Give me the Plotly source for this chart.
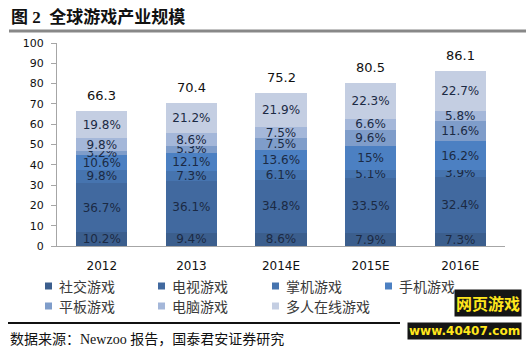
import plotly.graph_objects as go

# ---------------- data ----------------
years = ["2012", "2013", "2014E", "2015E", "2016E"]
totals = [66.3, 70.4, 75.2, 80.5, 86.1]

series_names = ["社交游戏", "电视游戏", "掌机游戏", "手机游戏", "平板游戏", "电脑游戏", "多人在线游戏"]
social_pct = [10.2, 9.4, 8.6, 7.9, 7.3]
tv_pct = [36.7, 36.1, 34.8, 33.5, 32.4]
handheld_pct = [9.8, 7.3, 6.1, 5.1, 3.9]
mobile_pct = [10.6, 12.1, 13.6, 15, 16.2]
tablet_pct = [3.2, 5.3, 7.5, 9.6, 11.6]
pc_pct = [9.8, 8.6, 7.5, 6.6, 5.8]
mmo_pct = [19.8, 21.2, 21.9, 22.3, 22.7]

y_ticks = [0, 10, 20, 30, 40, 50, 60, 70, 80, 90, 100]

series_pcts = [social_pct, tv_pct, handheld_pct, mobile_pct, tablet_pct, pc_pct, mmo_pct]
colors = ["#3b5e8d", "#41699f", "#4674af", "#4c80c2", "#7f9dca", "#a4b7d9", "#c4cee2"]

# ---------------- layout geometry (pixels) ----------------
W, H = 526, 348
L, R, T, B = 57, 21, 43, 102
PW, PH = W - L - R, H - T - B


def px(x):
    return (x - L) / PW


def py(y):
    return (H - B - y) / PH


NUM_FONT = "DejaVu Sans, Verdana, sans-serif"
CJK_FONT = "Noto Sans CJK SC, sans-serif"
SERIF_CJK = "Liberation Serif, Noto Sans CJK SC, serif"

fig = go.Figure()
for name, pcts, col in zip(series_names, series_pcts, colors):
    vals = [t * p / 100 for t, p in zip(totals, pcts)]
    fig.add_trace(go.Bar(
        x=years, y=vals, name=name,
        marker=dict(color=col, line=dict(width=0)),
        text=[f"{p:g}%" for p in pcts],
        textposition="inside",
        insidetextanchor="middle",
        textangle=0,
        constraintext="none",
        insidetextfont=dict(family=NUM_FONT, size=12, color="#1b2a44"),
        showlegend=False,
        hoverinfo="skip",
    ))

annotations = []
# totals above bars (x given as category index)
for i, tot in enumerate(totals):
    annotations.append(dict(
        x=i, y=tot, xref="x", yref="y", text=f"{tot:g}", showarrow=False,
        yanchor="bottom", yshift=6, font=dict(family=NUM_FONT, size=13, color="#111111"),
    ))

# title
annotations.append(dict(
    x=px(9), y=py(17), xref="paper", yref="paper", xanchor="left", yanchor="middle",
    text="<b>图 2  全球游戏产业规模</b>", showarrow=False,
    font=dict(family=SERIF_CJK, size=17, color="#111111"),
))

# legend (manual)
leg_cols = [45, 158, 272, 385]
leg_rows = [286, 306]
shapes = []
for i, (name, col) in enumerate(zip(series_names, colors)):
    cx = leg_cols[i % 4]
    ry = leg_rows[i // 4]
    shapes.append(dict(type="rect", xref="paper", yref="paper",
                       x0=px(cx), x1=px(cx + 7), y0=py(ry + 3.5), y1=py(ry - 3.5),
                       fillcolor=col, line=dict(width=0)))
    annotations.append(dict(
        x=px(cx + 12), y=py(ry), xref="paper", yref="paper", xanchor="left", yanchor="middle",
        text=name, showarrow=False, font=dict(family=CJK_FONT, size=14, color="#3a3a3a"),
    ))

# top gray rule and bottom black rule
shapes.append(dict(type="line", xref="paper", yref="paper", x0=px(9), x1=px(526), y0=py(31), y1=py(31),
                   line=dict(color="#888888", width=3)))
shapes.append(dict(type="line", xref="paper", yref="paper", x0=px(8), x1=px(400), y0=py(323), y1=py(323),
                   line=dict(color="#111111", width=2)))

# source
annotations.append(dict(
    x=px(8), y=py(339), xref="paper", yref="paper", xanchor="left", yanchor="middle",
    text="数据来源：Newzoo 报告，国泰君安证券研究", showarrow=False,
    font=dict(family=SERIF_CJK, size=14, color="#111111"),
))

# watermark approximation
annotations.append(dict(
    x=px(522), y=py(303), xref="paper", yref="paper", xanchor="right", yanchor="middle",
    text="<b>网页游戏</b>", showarrow=False, bgcolor="#151515", borderpad=1,
    font=dict(family=CJK_FONT, size=16, color="#ffe61c"),
))
annotations.append(dict(
    x=px(522), y=py(331), xref="paper", yref="paper", xanchor="right", yanchor="middle",
    text="<b>www.40407.com</b>", showarrow=False, bgcolor="#151515", borderpad=1,
    font=dict(family=NUM_FONT, size=12, color="#ffe61c"),
))

fig.update_layout(
    width=W, height=H,
    margin=dict(l=L, r=R, t=T, b=B, pad=0),
    paper_bgcolor="white", plot_bgcolor="white",
    barmode="stack", bargap=0.43,
    uniformtext=dict(minsize=12, mode="show"),
    annotations=annotations, shapes=shapes,
    showlegend=False,
)
fig.update_xaxes(
    type="category", range=[-0.5, len(years) - 0.5],
    showline=True, linecolor="#a6a6a6", linewidth=1,
    ticks="outside", ticklen=9, tickcolor="rgba(0,0,0,0)",
    tickfont=dict(family=NUM_FONT, size=12, color="#111111"),
    showgrid=False, zeroline=False,
)
fig.update_yaxes(
    range=[0, 100], tickvals=y_ticks,
    showline=True, linecolor="#a6a6a6", linewidth=1,
    ticks="outside", ticklen=5, tickcolor="#a6a6a6",
    ticklabelstandoff=5,
    tickfont=dict(family=NUM_FONT, size=11, color="#111111"),
    showgrid=False, zeroline=False,
)

fig.write_html("out.html")
